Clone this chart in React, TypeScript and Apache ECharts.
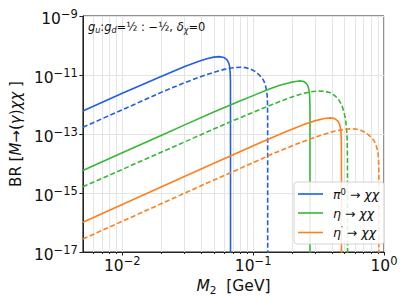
import React, { useEffect, useRef } from 'react';
import * as echarts from 'echarts';

// ---------- data ----------
const xMajorTicks = [0.01, 0.1, 1];
const xMinorTicks = [
  0.006, 0.007, 0.008, 0.009,
  0.02, 0.03, 0.04, 0.05, 0.06, 0.07, 0.08, 0.09,
  0.2, 0.3, 0.4, 0.5, 0.6, 0.7, 0.8, 0.9,
];
const yMajorTicks = [1e-17, 1e-15, 1e-13, 1e-11, 1e-9];

// pi0 -> chi chi (solid)
const piSolidM = [0.005, 0.01, 0.02, 0.03, 0.04, 0.045, 0.05, 0.055, 0.06, 0.063, 0.065, 0.066, 0.0668, 0.0671, 0.0672];
const piSolidBR = [6.0e-13, 2.4e-12, 9.1e-12, 1.95e-11, 3.1e-11, 3.63e-11, 4.03e-11, 4.19e-11, 3.91e-11, 3.33e-11, 2.58e-11, 2.0e-11, 1.17e-11, 5.9e-12, 1e-18];
// pi0 -> gamma chi chi (dashed)
const piDashM = [0.005, 0.01, 0.02, 0.03, 0.04, 0.05, 0.06, 0.07, 0.08, 0.0875, 0.0957, 0.1025, 0.1076, 0.1125, 0.1175, 0.1215, 0.1245, 0.127, 0.1282, 0.1288, 0.1291, 0.1292];
const piDashBR = [1.7e-13, 6.6e-13, 2.63e-12, 5.5e-12, 8.9e-12, 1.23e-11, 1.55e-11, 1.76e-11, 1.84e-11, 1.78e-11, 1.58e-11, 1.35e-11, 1.15e-11, 9.5e-12, 7.8e-12, 5.9e-12, 4.2e-12, 2.8e-12, 1.86e-12, 1e-12, 2.5e-13, 1e-18];

// eta -> chi chi (solid)
const etaSolidM = [0.005, 0.01, 0.02, 0.03, 0.05, 0.08, 0.1, 0.13, 0.16, 0.19, 0.21, 0.225, 0.24, 0.25, 0.26, 0.265, 0.269, 0.271, 0.2718, 0.272];
const etaSolidBR = [5.75e-15, 2.3e-14, 9.1e-14, 2.04e-13, 5.6e-13, 1.35e-12, 2.0e-12, 3.24e-12, 4.47e-12, 5.5e-12, 6.0e-12, 6.3e-12, 6.17e-12, 5.6e-12, 4.57e-12, 3.63e-12, 2.45e-12, 1.45e-12, 6.5e-13, 1e-18];
// eta -> gamma chi chi (dashed)
const etaDashM = [0.005, 0.01, 0.02, 0.04, 0.06, 0.08, 0.12, 0.155, 0.1927, 0.23, 0.27, 0.31, 0.35, 0.39, 0.42, 0.445, 0.462, 0.48, 0.495, 0.507, 0.517, 0.523, 0.526, 0.527];
const etaDashBR = [1.62e-15, 6.3e-15, 2.45e-14, 9.5e-14, 2.1e-13, 3.6e-13, 7.6e-13, 1.2e-12, 1.74e-12, 2.24e-12, 2.66e-12, 2.85e-12, 2.82e-12, 2.51e-12, 2.0e-12, 1.58e-12, 1.2e-12, 8.5e-13, 5.5e-13, 3.3e-13, 1.6e-13, 6.3e-14, 1.6e-14, 1e-18];

// eta' -> chi chi (solid)
const etapSolidM = [0.005, 0.01, 0.02, 0.04, 0.08, 0.12, 0.16, 0.2, 0.25, 0.3, 0.35, 0.39, 0.42, 0.445, 0.46, 0.468, 0.4715, 0.4728, 0.473];
const etapSolidBR = [1.02e-16, 4.07e-16, 1.62e-15, 6.46e-15, 2.57e-14, 5.7e-14, 9.86e-14, 1.48e-13, 2.17e-13, 2.84e-13, 3.37e-13, 3.52e-13, 3.32e-13, 2.75e-13, 2.02e-13, 1.3e-13, 7.2e-14, 2.7e-14, 1e-18];
// eta' -> gamma chi chi (dashed)
const etapDashM = [0.005, 0.01, 0.02, 0.04, 0.0708, 0.1416, 0.2124, 0.2832, 0.354, 0.4248, 0.4956, 0.5664, 0.6195, 0.6776, 0.7257, 0.7618, 0.7965, 0.8319, 0.8602, 0.8815, 0.8992, 0.9077, 0.9119, 0.914, 0.9148];
const etapDashBR = [2.75e-17, 1.1e-16, 4.4e-16, 1.76e-15, 5.4e-15, 2.14e-14, 4.47e-14, 7.2e-14, 1.0e-13, 1.26e-13, 1.43e-13, 1.5e-13, 1.45e-13, 1.29e-13, 1.1e-13, 9.3e-14, 7.8e-14, 6.3e-14, 4.8e-14, 3.4e-14, 2.3e-14, 1.5e-14, 8.1e-15, 2.0e-15, 1e-18];

const legendNames = ['pi0', 'eta', 'etap'];
const legendLabels: Record<string, string> = {
  pi0: '{m|π}{s|0}{u| → }{m|χχ}',
  eta: '{m|η}{u| → }{m|χχ}',
  etap: '{m|η}{s|′}{u| → }{m|χχ}',
};

const BLUE = '#1f5ee8';
const GREEN = '#35b835';
const ORANGE = '#ff7f1a';
const FONT = 'DejaVu Sans';
const INK = '#111';

const powLabel = (v: number) => {
  const e = Math.round(Math.log10(v));
  const s = e < 0 ? '−' + Math.abs(e) : String(e);
  return `{b|10}{s|${s}}`;
};

const tickRich = {
  b: { fontFamily: FONT, fontSize: 15.5, lineHeight: 22, color: INK },
  s: { fontFamily: FONT, fontSize: 11.5, lineHeight: 10, verticalAlign: 'top', color: INK },
};

const zip = (xs: number[], ys: number[]) => xs.map((x, i) => [x, ys[i]]);

const mkSeries = (name: string, xs: number[], ys: number[], color: string, dashed: boolean) => ({
  type: 'line',
  name,
  data: zip(xs, ys),
  symbol: 'none',
  showSymbol: false,
  smooth: false,
  color,
  clip: true,
  silent: true,
  z: 3,
  lineStyle: { color, width: 1.6, type: dashed ? [5, 2.5] : 'solid', join: 'round' },
});

const gridLine = { show: true, lineStyle: { color: '#e4e4e4', width: 1 } };

const option: any = {
  animation: false,
  backgroundColor: '#fff',
  grid: { left: 81, right: 24, top: 16, bottom: 54, show: true, borderColor: '#222', borderWidth: 1 },
  xAxis: [
    {
      type: 'log',
      logBase: 10,
      min: 0.005,
      max: 1,
      position: 'bottom',
      axisLine: { show: true, lineStyle: { color: '#222', width: 1 } },
      axisTick: { show: true, length: 3.5, customValues: xMajorTicks, lineStyle: { color: '#222' } },
      axisLabel: { customValues: xMajorTicks, formatter: powLabel, rich: tickRich, margin: 2.5 },
      splitLine: gridLine,
      name: '{i|M}{sb|2}{n|  [GeV]}',
      nameLocation: 'middle',
      nameGap: 25,
      nameTextStyle: {
        rich: {
          i: { fontFamily: FONT, fontStyle: 'italic', fontSize: 15.5, lineHeight: 18, color: INK },
          sb: { fontFamily: FONT, fontSize: 10.5, lineHeight: 8, verticalAlign: 'bottom', color: INK },
          n: { fontFamily: FONT, fontSize: 15.5, lineHeight: 18, color: INK },
        },
      },
    },
    {
      type: 'log',
      logBase: 10,
      min: 0.005,
      max: 1,
      position: 'bottom',
      axisLine: { show: false },
      axisTick: { show: true, length: 2, customValues: xMinorTicks, lineStyle: { color: '#222' } },
      axisLabel: { show: false },
      splitLine: gridLine,
    },
  ],
  yAxis: {
    type: 'log',
    logBase: 10,
    min: 1e-17,
    max: 1e-9,
    axisLine: { show: true, lineStyle: { color: '#222', width: 1 } },
    axisTick: { show: true, length: 3.5, customValues: yMajorTicks, lineStyle: { color: '#222' } },
    axisLabel: { customValues: yMajorTicks, formatter: powLabel, rich: tickRich, margin: 5, padding: [6, 0, 0, 0] },
    splitLine: gridLine,
    name: '{n|BR [}{i|M}{n|→(}{i|γ}{n|)}{i|χχ}{n| ]}',
    nameLocation: 'middle',
    nameGap: 56,
    nameRotate: 90,
    nameTextStyle: {
      rich: {
        i: { fontFamily: FONT, fontStyle: 'italic', fontSize: 15, lineHeight: 18, color: INK },
        n: { fontFamily: FONT, fontSize: 15, lineHeight: 18, color: INK },
      },
    },
  },
  legend: {
    data: legendNames,
    orient: 'vertical',
    left: 294,
    top: 182,
    padding: [5, 5, 5, 4],
    itemWidth: 25,
    itemHeight: 1.6,
    itemGap: 6,
    icon: 'rect',
    backgroundColor: 'rgba(255,255,255,0.85)',
    borderColor: '#d4d4d4',
    borderWidth: 1,
    borderRadius: 3,
    formatter: (name: string) => legendLabels[name],
    textStyle: {
      padding: [0, 0, 0, 5],
      rich: {
        m: { fontFamily: FONT, fontStyle: 'italic', fontSize: 12.5, lineHeight: 14, color: INK },
        u: { fontFamily: FONT, fontSize: 12.5, lineHeight: 14, color: INK },
        s: { fontFamily: FONT, fontSize: 8.5, lineHeight: 8, verticalAlign: 'top', color: INK },
      },
    },
  },
  graphic: [
    {
      type: 'text',
      left: 88,
      top: 21,
      z: 10,
      style: {
        text: '{i|g}{b|u}{n|:}{i|g}{b|d}{n|=½ : −½, }{i|δ}{b|χ}{n|=0}',
        rich: {
          i: { fontFamily: FONT, fontStyle: 'italic', fontSize: 11.5, lineHeight: 15, fill: INK },
          n: { fontFamily: FONT, fontSize: 11.5, lineHeight: 15, fill: INK },
          b: { fontFamily: FONT, fontStyle: 'italic', fontSize: 8, lineHeight: 8, verticalAlign: 'bottom', fill: INK },
        },
      },
    },
  ],
  series: [
    mkSeries('pi0', piSolidM, piSolidBR, BLUE, false),
    mkSeries('pi0-gamma', piDashM, piDashBR, BLUE, true),
    mkSeries('eta', etaSolidM, etaSolidBR, GREEN, false),
    mkSeries('eta-gamma', etaDashM, etaDashBR, GREEN, true),
    mkSeries('etap', etapSolidM, etapSolidBR, ORANGE, false),
    mkSeries('etap-gamma', etapDashM, etapDashBR, ORANGE, true),
  ],
};

export default function App() {
  const ref = useRef<HTMLDivElement>(null);
  useEffect(() => {
    if (!ref.current) return;
    const chart = echarts.init(ref.current, null, { renderer: 'svg' });
    chart.setOption(option);
    return () => chart.dispose();
  }, []);
  return (
    <div
      ref={ref}
      style={{ position: 'fixed', left: 0, top: 0, width: 408, height: 306, background: '#fff' }}
    />
  );
}
